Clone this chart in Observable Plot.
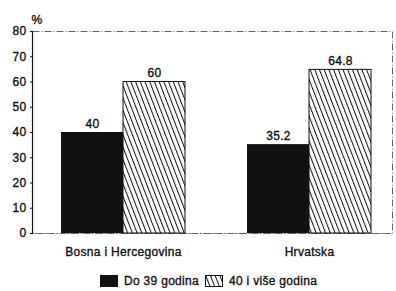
<!DOCTYPE html>
<html>
<head>
<meta charset="utf-8">
<script src="https://cdn.jsdelivr.net/npm/d3@7"></script>
<script src="https://cdn.jsdelivr.net/npm/@observablehq/plot@0.6"></script>
<style>
  body { margin: 0; background: #fff; font-family: "Liberation Sans", Arial, sans-serif; }
  #chart svg { display: block; }
  #chart svg text { stroke: #111; stroke-width: 0.35px; }
  .legend { display: flex; align-items: center; margin-left: 100px; margin-top: 12px; font-size: 12px; color: #111; letter-spacing: 0.3px; -webkit-text-stroke: 0.35px #111; }
  .sw { width: 18px; height: 12px; box-sizing: border-box; }
  .sw.black { background: #111; }
  .lab { margin-left: 6px; margin-right: 6px; }
</style>
</head>
<body>
<div id="chart"></div>
<script>
const categories = ["Bosna i Hercegovina", "Hrvatska"];
const series = ["Do 39 godina", "40 i više godina"];
const young = [40, 35.2];
const old = [60, 64.8];
const yTicks = [0, 10, 20, 30, 40, 50, 60, 70, 80];

const youngData = categories.map((c, i) => ({category: c, value: young[i], series: series[0]}));
const oldData = categories.map((c, i) => ({category: c, value: old[i], series: series[1]}));

const half = 62;
const chart = Plot.plot({
  width: 396,
  height: 262,
  marginLeft: 32,
  marginRight: 4,
  marginTop: 31,
  marginBottom: 29,
  style: {fontFamily: "'Liberation Sans', Arial, sans-serif", fontSize: "12px", color: "#111", background: "#fff"},
  x: {domain: categories, range: [36, 396], paddingInner: 0.333, paddingOuter: 0.134, label: null},
  y: {domain: [0, 80], ticks: yTicks, label: null},
  marks: [
    Plot.frame({stroke: "#555", strokeDasharray: "7,2,1,2", strokeWidth: 0.9}),
    Plot.ruleY([0], {stroke: "#666", strokeDasharray: "1.5,2"}),
    Plot.frame({anchor: "left", stroke: "#111", strokeWidth: 1.2}),
    Plot.barY(youngData, {x: "category", y: "value", fill: "#111", insetRight: half}),
    Plot.barY(oldData, {x: "category", y: "value", fill: "url(#hatch)", stroke: "#111", strokeWidth: 1, insetLeft: half}),
    Plot.text(youngData, {x: "category", y: "value", text: d => String(d.value), dx: -half / 2, dy: -5, lineAnchor: "bottom", fontSize: 12, fill: "#111"}),
    Plot.text(oldData, {x: "category", y: "value", text: d => String(d.value), dx: half / 2, dy: -5, lineAnchor: "bottom", fontSize: 12, fill: "#111"}),
    Plot.axisY({ticks: yTicks, tickSize: 2, tickPadding: 4, fontSize: 12, label: null}),
    Plot.axisX({tickSize: 0, tickPadding: 14, fontSize: 12, label: null}),
    Plot.text(["%"], {frameAnchor: "top-left", dx: -1, dy: -16, textAnchor: "start", fontSize: 12, fill: "#111"})
  ]
});

const ns = "http://www.w3.org/2000/svg";
const defs = document.createElementNS(ns, "defs");
defs.innerHTML = '<pattern id="hatch" patternUnits="userSpaceOnUse" width="4.4" height="40" patternTransform="rotate(-21)"><rect width="4.4" height="40" fill="#fff"/><line x1="0.5" y1="0" x2="0.5" y2="40" stroke="#111" stroke-width="1"/></pattern>';
chart.insertBefore(defs, chart.firstChild);
chart.querySelectorAll("text").forEach(t => t.style.letterSpacing = "0.3px");
document.getElementById("chart").appendChild(chart);

const legend = document.createElement("div");
legend.className = "legend";
legend.innerHTML = '<div class="sw black"></div><span class="lab">' + series[0] + '</span>' +
  '<svg width="18" height="12" style="display:block"><rect x="0.5" y="0.5" width="17" height="11" fill="url(#hatch)" stroke="#111"/></svg><span class="lab">' + series[1] + '</span>';
document.body.appendChild(legend);
</script>
</body>
</html>
